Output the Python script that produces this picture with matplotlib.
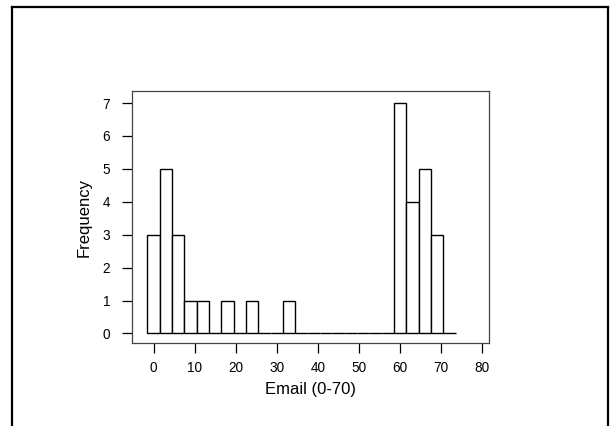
import matplotlib
matplotlib.use("Agg")
import matplotlib.pyplot as plt
from matplotlib.lines import Line2D
import numpy as np

# histogram of email counts, bins of width 3 centred on 0, 3, 6, ... 72
bin_centers = [0, 3, 6, 9, 12, 15, 18, 21, 24, 27, 30, 33, 36, 39, 42, 45,
               48, 51, 54, 57, 60, 63, 66, 69, 72]
counts = [3, 5, 3, 1, 1, 0, 1, 0, 1, 0, 0, 1, 0, 0, 0, 0,
          0, 0, 0, 0, 7, 4, 5, 3, 0]
bin_width = 3
x_ticks = [0, 10, 20, 30, 40, 50, 60, 70, 80]
y_ticks = [0, 1, 2, 3, 4, 5, 6, 7]

plt.rcParams['font.family'] = ['Liberation Sans', 'DejaVu Sans']

fig = plt.figure(figsize=(6.10, 4.26), dpi=100)
ax = fig.add_axes([0.216, 0.194, 0.585, 0.592])

ax.bar(bin_centers, counts, width=bin_width, color='white',
       edgecolor='black', linewidth=1.0)

ax.set_xlim(-5.3, 81.55)
ax.set_ylim(-0.30, 7.36)
ax.set_xticks(x_ticks)
ax.set_yticks(y_ticks)
ax.tick_params(axis='both', direction='out', length=7.5, width=0.9,
               labelsize=9.8, color='black')
ax.tick_params(axis='x', pad=5)
ax.tick_params(axis='y', pad=8)

for sp in ax.spines.values():
    sp.set_color('#444444')
    sp.set_linewidth(0.9)

ax.set_xlabel('Email (0-70)', fontsize=12, labelpad=5)
ax.set_ylabel('Frequency', fontsize=12, labelpad=8)

# outer frame around the figure (bottom edge cut off)
x0, x1, top = 12 / 610, 608 / 610, 1 - 6.7 / 426
for xs, ys in [([x0, x0], [-0.1, top]), ([x0, x1], [top, top]), ([x1, x1], [top, -0.1])]:
    fig.add_artist(Line2D(xs, ys, transform=fig.transFigure, color='black', linewidth=1.6))

fig.savefig('out.png', dpi=100)
